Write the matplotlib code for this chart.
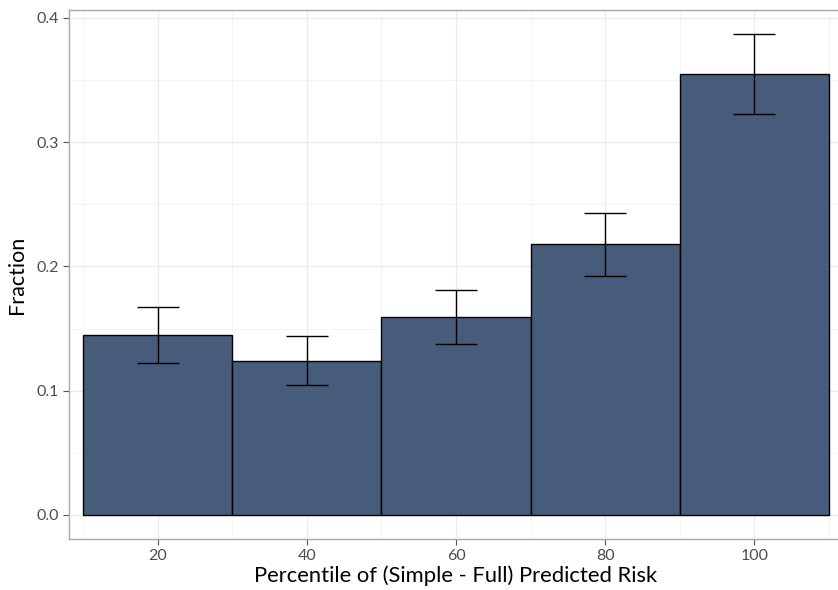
import matplotlib
matplotlib.use("Agg")
import matplotlib.pyplot as plt
from matplotlib.ticker import MultipleLocator

percentile = [20, 40, 60, 80, 100]
fraction = [0.1446, 0.1237, 0.159, 0.2177, 0.355]
err_low = [0.122, 0.1044, 0.1373, 0.192, 0.323]
err_high = [0.167, 0.1438, 0.1807, 0.2426, 0.387]
xticks = [20, 40, 60, 80, 100]
yticks = [0.0, 0.1, 0.2, 0.3, 0.4]

plt.rcParams['font.family'] = ['Lato', 'DejaVu Sans']

W, H = 838, 590
fig = plt.figure(figsize=(W / 100, H / 100), dpi=100)
left, right, top, bottom = 69, 843, 10, 539
ax = fig.add_axes([left / W, 1 - bottom / H, (right - left) / W, (bottom - top) / H])

ax.bar(percentile, fraction, width=20, color='#475C7B', edgecolor='black',
       linewidth=1.0, zorder=3)
yerr = [[f - l for f, l in zip(fraction, err_low)],
        [h - f for f, h in zip(fraction, err_high)]]
ax.errorbar(percentile, fraction, yerr=yerr, fmt='none', ecolor='black',
            elinewidth=1.0, capsize=15, capthick=1.0, zorder=4)

ax.set_xlim(8.12, 111.88)
ax.set_ylim(-0.0194, 0.4064)
ax.set_xticks(xticks)
ax.set_yticks(yticks)
ax.set_yticklabels([f"{v:.1f}" for v in yticks])
ax.xaxis.set_minor_locator(MultipleLocator(10))
ax.yaxis.set_minor_locator(MultipleLocator(0.05))
ax.grid(True, which='major', color='#EBEBEB', linewidth=1.0, zorder=0)
ax.grid(True, which='minor', color='#F3F3F3', linewidth=0.6, zorder=0)
ax.set_axisbelow(True)
ax.tick_params(which='minor', length=0)
ax.tick_params(which='major', length=4, color='#555555', width=0.8,
               labelsize=11.5, labelcolor='#4D4D4D', pad=3)
for s in ax.spines.values():
    s.set_color('#A8A8A8')
    s.set_linewidth(1.0)

ax.set_xlabel('Percentile of (Simple - Full) Predicted Risk', fontsize=15.8, labelpad=2)
ax.set_ylabel('Fraction', fontsize=15.5, labelpad=7)

fig.savefig('out.png', dpi=100)
